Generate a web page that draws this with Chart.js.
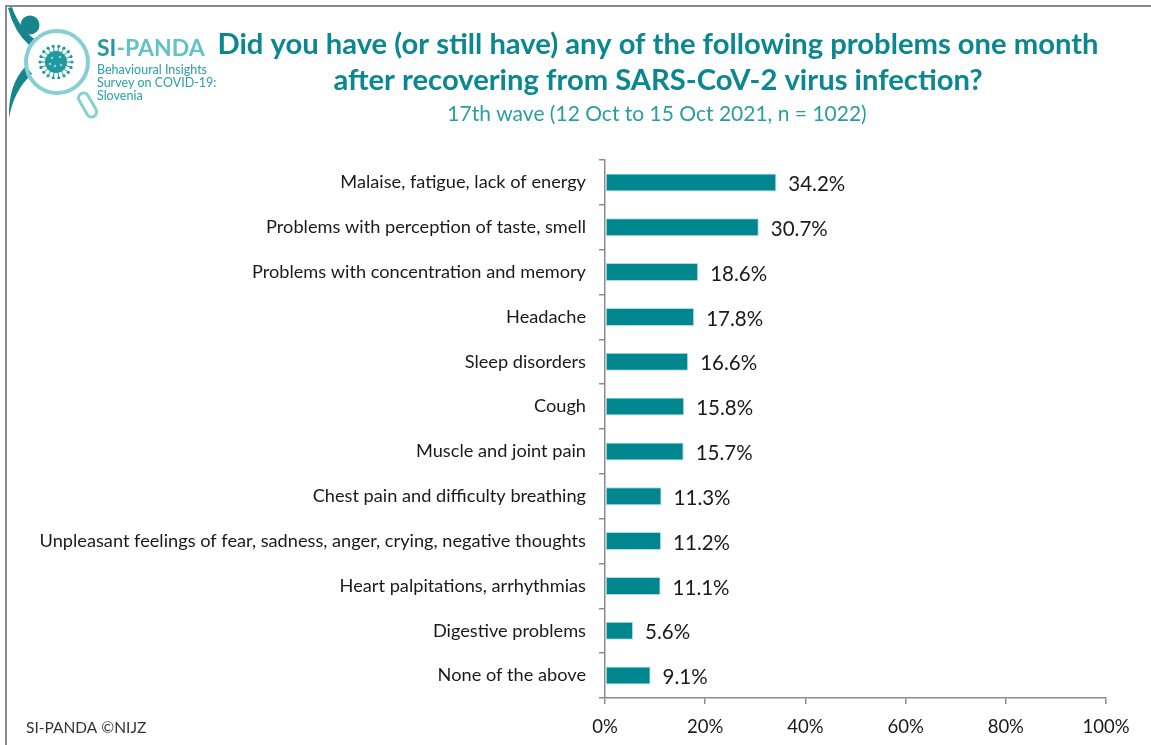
<!DOCTYPE html>
<html>
<head>
<meta charset="utf-8">
<script src="https://cdn.jsdelivr.net/npm/chart.js@4.4.1/dist/chart.umd.min.js"></script>
<style>
  html, body { margin: 0; padding: 0; background: #ffffff; }
  #wrap { position: relative; width: 1151px; height: 745px; }
  canvas { display: block; }
</style>
</head>
<body>
<div id="wrap"><canvas id="chart" width="1151" height="745"></canvas></div>
<script>
// Survey answers: share of respondents reporting each problem (%)
const categories = [
  'Malaise, fatigue, lack of energy',
  'Problems with perception of taste, smell',
  'Problems with concentration and memory',
  'Headache',
  'Sleep disorders',
  'Cough',
  'Muscle and joint pain',
  'Chest pain and difficulty breathing',
  'Unpleasant feelings of fear, sadness, anger, crying, negative thoughts',
  'Heart palpitations, arrhythmias',
  'Digestive problems',
  'None of the above'
];
const shares = [34.2, 30.7, 18.6, 17.8, 16.6, 15.8, 15.7, 11.3, 11.2, 11.1, 5.6, 9.1];
const axisTicks = [0, 20, 40, 60, 80, 100];

const titleLines = [
  'Did you have (or still have) any of the following problems one month',
  'after recovering from SARS-CoV-2 virus infection?'
];
const subtitleText = '17th wave (12 Oct to 15 Oct 2021, n = 1022)';
const footerText = 'SI-PANDA \u00A9NIJZ';
const logoName = ['SI', '-PANDA'];
const logoLines = ['Behavioural Insights', 'Survey on COVID-19:', 'Slovenia'];

const TEAL = '#00868f';
const FONT = 'Lato, "Open Sans", sans-serif';

// Frame, logo, headings and footer
const decorPlugin = {
  id: 'decor',
  beforeDraw(chart) {
    const ctx = chart.ctx;
    ctx.save();
    ctx.fillStyle = '#ffffff';
    ctx.fillRect(0, 0, chart.width, chart.height);
    // frame lines
    ctx.strokeStyle = '#8a8a8a';
    ctx.lineWidth = 2;
    ctx.beginPath();
    ctx.moveTo(6, chart.height);
    ctx.lineTo(6, 6);
    ctx.lineTo(chart.width, 6);
    ctx.stroke();
    ctx.restore();
  },
  afterDraw(chart) {
    const ctx = chart.ctx;
    ctx.save();

    // --- logo: figure holding a magnifying glass over a virus ---
    ctx.fillStyle = '#16868c';
    // head
    ctx.beginPath(); ctx.arc(30, 25, 9.5, 0, Math.PI * 2); ctx.fill();
    // raised arm
    ctx.beginPath();
    ctx.moveTo(8, 8);
    ctx.quadraticCurveTo(14, 32, 30, 46);
    ctx.lineTo(36, 40);
    ctx.quadraticCurveTo(20, 30, 12, 7);
    ctx.closePath(); ctx.fill();
    // body swoosh
    ctx.beginPath();
    ctx.moveTo(26, 66);
    ctx.quadraticCurveTo(8, 84, 9, 118);
    ctx.quadraticCurveTo(14, 90, 32, 74);
    ctx.closePath(); ctx.fill();

    // glass handle
    ctx.strokeStyle = '#86d0d4';
    ctx.lineWidth = 3;
    ctx.lineCap = 'round';
    ctx.save();
    ctx.translate(80, 92);
    ctx.rotate(Math.atan2(24, 14));
    ctx.beginPath();
    ctx.roundRect(2, -5, 26, 10, 5);
    ctx.stroke();
    ctx.restore();
    // glass ring
    ctx.lineWidth = 4;
    ctx.beginPath(); ctx.arc(57, 62, 31, 0, Math.PI * 2); ctx.stroke();

    // virus
    ctx.fillStyle = '#1f9aa0';
    ctx.beginPath(); ctx.arc(56, 62, 11, 0, Math.PI * 2); ctx.fill();
    for (let i = 0; i < 18; i++) {
      const a = i * Math.PI * 2 / 18;
      ctx.beginPath();
      ctx.arc(56 + Math.cos(a) * 16, 62 + Math.sin(a) * 16, 1.6, 0, Math.PI * 2);
      ctx.fill();
      ctx.strokeStyle = '#1f9aa0'; ctx.lineWidth = 1;
      ctx.beginPath();
      ctx.moveTo(56 + Math.cos(a) * 10, 62 + Math.sin(a) * 10);
      ctx.lineTo(56 + Math.cos(a) * 15, 62 + Math.sin(a) * 15);
      ctx.stroke();
    }
    ctx.fillStyle = '#8fd3d6';
    [[52, 58], [60, 57], [55, 66], [61, 65], [50, 64]].forEach(([x, y]) => {
      ctx.beginPath(); ctx.arc(x, y, 1.3, 0, Math.PI * 2); ctx.fill();
    });

    // logo wordmark
    ctx.textAlign = 'left';
    ctx.textBaseline = 'alphabetic';
    ctx.font = 'bold 23px ' + FONT;
    ctx.fillStyle = '#23989e';
    ctx.fillText(logoName[0], 97, 56);
    const w0 = ctx.measureText(logoName[0]).width;
    ctx.fillStyle = '#63c2c7';
    ctx.fillText(logoName[1], 97 + w0, 56);
    ctx.font = '12.5px ' + FONT;
    ctx.fillStyle = '#2aa0a6';
    logoLines.forEach((t, i) => ctx.fillText(t, 97, 74 + i * 13));

    // headings
    ctx.textAlign = 'center';
    ctx.fillStyle = '#0a8790';
    ctx.font = 'bold 29.2px ' + FONT;
    ctx.fillText(titleLines[0], 658, 54);
    ctx.fillText(titleLines[1], 658, 90);
    ctx.font = '21px ' + FONT;
    ctx.fillStyle = '#2a9da4';
    ctx.fillText(subtitleText, 657, 121);

    // footer
    ctx.textAlign = 'left';
    ctx.font = '15.5px ' + FONT;
    ctx.fillStyle = '#333333';
    ctx.fillText(footerText, 26, 733);

    ctx.restore();
  }
};

// Value labels at the end of each bar
const valueLabels = {
  id: 'valueLabels',
  afterDatasetsDraw(chart) {
    const ctx = chart.ctx;
    const meta = chart.getDatasetMeta(0);
    ctx.save();
    ctx.font = '20.5px ' + FONT;
    ctx.fillStyle = '#1a1a1a';
    ctx.textAlign = 'left';
    ctx.textBaseline = 'middle';
    meta.data.forEach((bar, i) => {
      ctx.fillText(shares[i].toFixed(1) + '%', bar.x + 12, bar.y + 2);
    });
    ctx.restore();
  }
};

new Chart(document.getElementById('chart'), {
  type: 'bar',
  data: {
    labels: categories,
    datasets: [{
      data: shares,
      backgroundColor: TEAL,
      borderColor: '#b5dde0',
      borderWidth: 1,
      borderSkipped: false,
      barPercentage: 0.4,
      categoryPercentage: 1
    }]
  },
  options: {
    indexAxis: 'y',
    responsive: false,
    animation: false,
    layout: { padding: { top: 160, right: 45, left: 0, bottom: 0 } },
    plugins: { legend: { display: false }, tooltip: { enabled: false } },
    scales: {
      x: {
        min: 0, max: 100,
        afterBuildTicks(scale) { scale.ticks = axisTicks.map(v => ({ value: v })); },
        afterFit(scale) { scale.height = 745 - 698; },
        border: { color: '#8c8c8c', width: 1.5 },
        grid: { drawOnChartArea: false, color: '#8c8c8c', tickLength: 6, lineWidth: 1.5 },
        ticks: {
          callback: v => v + '%',
          color: '#1a1a1a',
          font: { family: FONT, size: 18.5 },
          padding: 12,
          maxRotation: 0
        }
      },
      y: {
        afterFit(scale) { scale.width = 605; },
        border: { color: '#8c8c8c', width: 1.5 },
        grid: { drawOnChartArea: false, color: '#8c8c8c', tickLength: 6, lineWidth: 1.5, offset: true },
        ticks: {
          color: '#1a1a1a',
          font: { family: FONT, size: 18.2 },
          padding: 13,
          autoSkip: false
        }
      }
    }
  },
  plugins: [decorPlugin, valueLabels]
});
</script>
</body>
</html>
